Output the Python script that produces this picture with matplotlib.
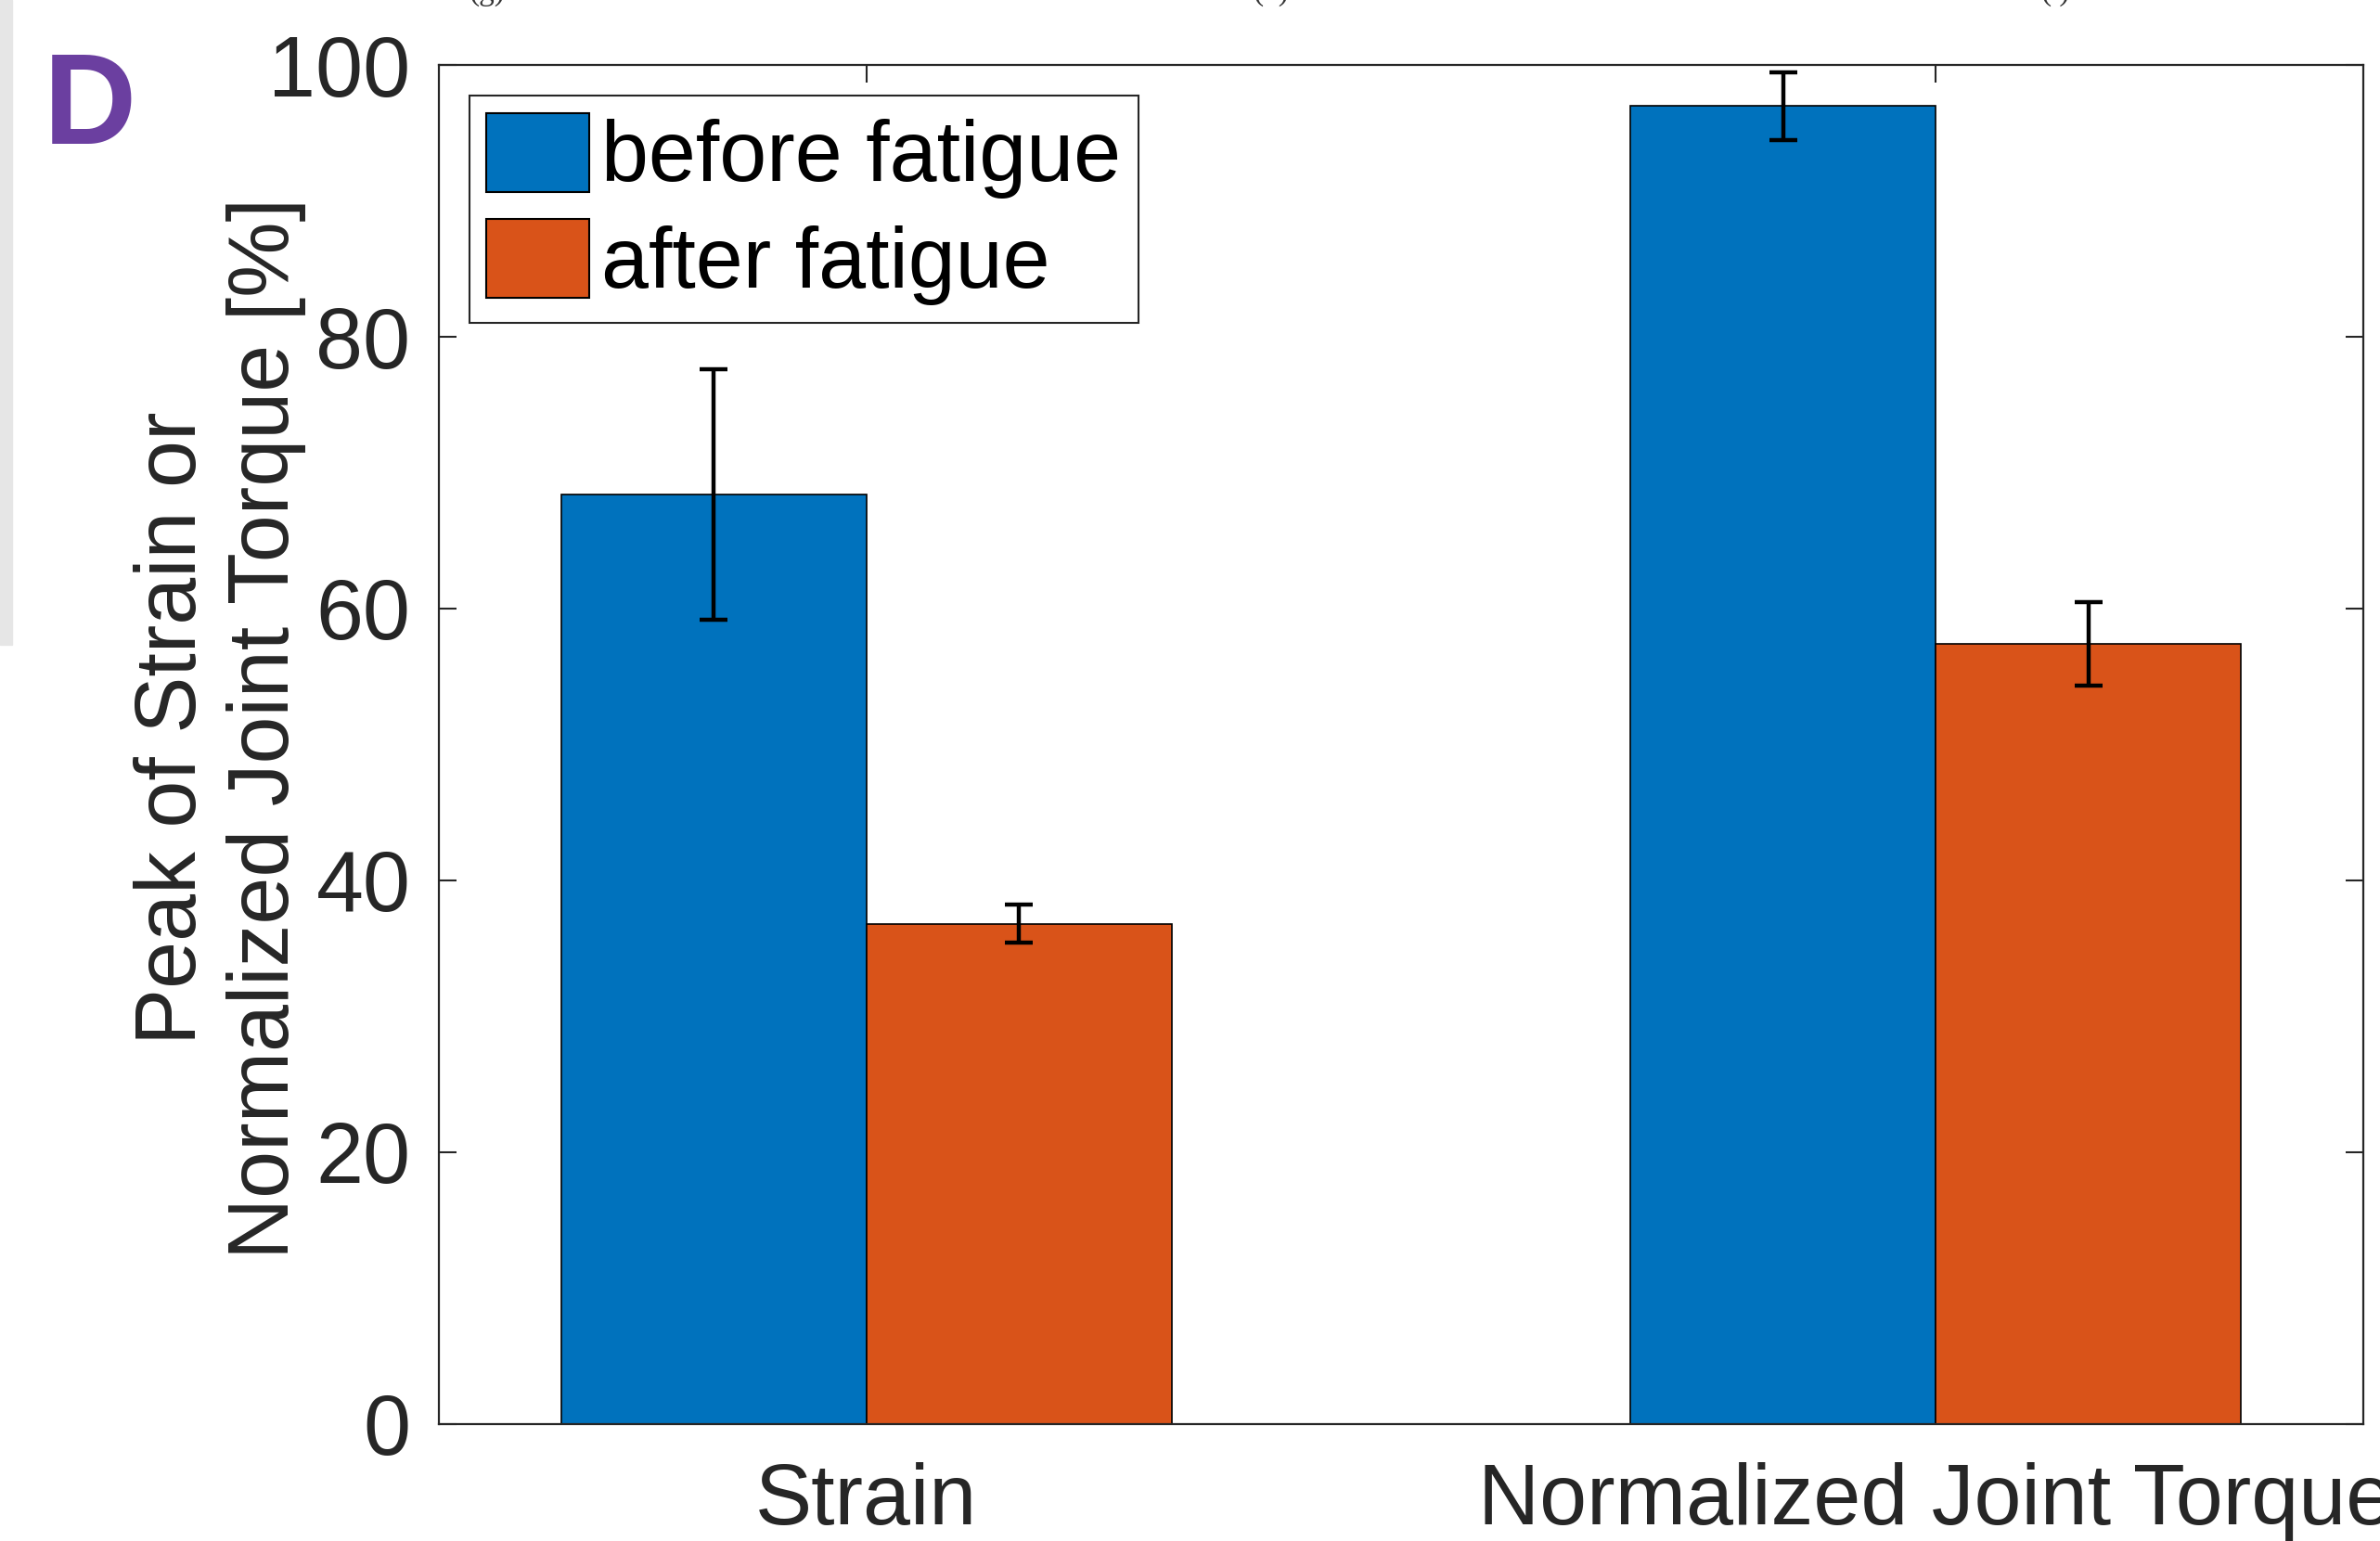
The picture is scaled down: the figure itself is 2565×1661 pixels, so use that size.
import numpy as np
import matplotlib.pyplot as plt
from matplotlib.patches import Rectangle

plt.rcParams['font.family'] = ['Liberation Sans', 'DejaVu Sans']

# datos
categorias = ['Strain', 'Normalized Joint Torque']
series = ['before fatigue', 'after fatigue']
antes = [68.4, 97.0]
antes_err = [9.2, 2.5]
despues = [36.8, 57.4]
despues_err = [1.4, 3.05]
yticks = [0, 20, 40, 60, 80, 100]
colores = ['#0072BD', '#D95319']

fig = plt.figure(figsize=(25.65, 16.61), dpi=100)
ax = fig.add_axes([0.1844, 0.0761, 0.8086, 0.8816])

x = np.arange(1, len(categorias) + 1)
w = 0.2857
fs = 66

for i, (vals, errs) in enumerate([(antes, antes_err), (despues, despues_err)]):
    pos = x + (i - 0.5) * w
    ax.bar(pos, vals, width=w, color=colores[i], edgecolor='black',
           linewidth=1.2, label=series[i], zorder=2)
    ax.errorbar(pos, vals, yerr=errs, fmt='none', ecolor='black',
                elinewidth=3.2, capsize=11, capthick=3.2, zorder=3)

ax.set_xlim(0.6, 2.4)
ax.set_ylim(0, 100)
ax.set_xticks(x)
ax.set_xticklabels(categorias)
ax.set_yticks(yticks)
ax.tick_params(axis='both', direction='in', length=14, width=1.5,
               colors='#262626', labelsize=fs, top=True, right=True)
ax.tick_params(axis='y', pad=22)
ax.tick_params(axis='x', pad=30)
for s in ax.spines.values():
    s.set_color('#262626')
    s.set_linewidth(1.6)

ax.set_ylabel('Peak of Strain or\nNormalized Joint Torque [%]', fontsize=fs,
              color='#262626', linespacing=1.2)
ax.yaxis.set_label_coords(-0.069, 0.512)

leg = ax.legend(loc='upper left', fontsize=fs, frameon=True, fancybox=False,
                edgecolor='#262626', framealpha=1, borderaxespad=0.36,
                borderpad=0.2, handlelength=1.21, handleheight=1.05,
                handletextpad=0.14, labelspacing=0.24)
leg.get_frame().set_linewidth(1.5)
for h in leg.legend_handles:
    h.set_edgecolor('black')
    h.set_linewidth(1.5)

# etiqueta del panel y restos de la figura de arriba
fig.text(47 / 2565, 1 - 155 / 1661, 'D', fontsize=100, fontweight='bold',
         color='#6B3FA0', ha='left', va='baseline')
fig.patches.append(Rectangle((0, 1 - 695 / 1661), 13 / 2565, 695 / 1661,
                             transform=fig.transFigure, color='#E6E6E6'))
for xx, t in [(525, '(g)'), (1370, '(h)'), (2215, '(i)')]:
    fig.text(xx / 2565, 1.0, t, fontsize=24, family='Liberation Serif',
             color='#333333', ha='center', va='baseline')

fig.savefig('out.png', dpi=100)
